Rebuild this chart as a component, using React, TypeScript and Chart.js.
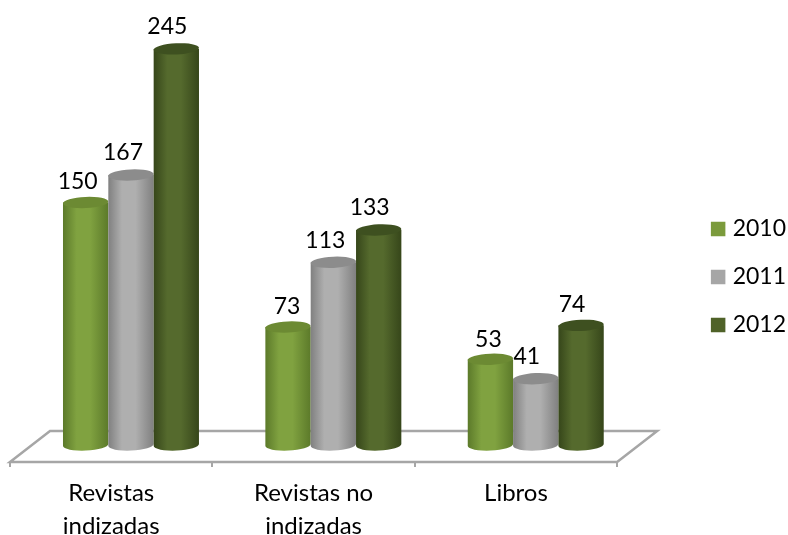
import React, { useEffect, useRef } from "react";
import { Chart, registerables } from "chart.js";

Chart.register(...registerables);

const categories = [["Revistas", "indizadas"], ["Revistas no", "indizadas"], ["Libros"]];
const series2010 = [150, 73, 53];
const series2011 = [167, 113, 41];
const series2012 = [245, 133, 74];
const seriesNames = ["2010", "2011", "2012"];

const legendColors = ["#7b9b3c", "#a6a6a6", "#4f6228"];
const edgeColors = ["#5c7a2a", "#808080", "#36461a"];
const midColors = ["#80a240", "#afafaf", "#556a2d"];
const capColors = ["#6c8a33", "#8c8c8c", "#3e5020"];
const labelShift = [[-8, -1, -2], [-8, -8, -9], [-9, -9, -9]];
const labelRise = [[21, 20, 20], [22, 22, 22], [22, 22, 21]];

const DEPTH_X = 19.8;
const DEPTH_Y = -17;
const FLOOR_X = 40;
const FLOOR_Y = -31;
const RY = 5.6;
const TILT = -0.045;
const FONT = "Lato";
const NUM_SIZE = 23;
const CAT_SIZE = 24;

const cylinderPlugin = {
  id: "cylinders",
  beforeDatasetsDraw(chart: any) {
    const { ctx, chartArea: a } = chart;
    ctx.save();
    ctx.beginPath();
    ctx.moveTo(a.left, a.bottom);
    ctx.lineTo(a.right, a.bottom);
    ctx.lineTo(a.right + FLOOR_X, a.bottom + FLOOR_Y);
    ctx.lineTo(a.left + FLOOR_X, a.bottom + FLOOR_Y);
    ctx.closePath();
    ctx.fillStyle = "#ffffff";
    ctx.fill();
    ctx.strokeStyle = "#a6a6a6";
    ctx.lineWidth = 2.5;
    ctx.stroke();
    ctx.restore();
  },
  beforeDatasetDraw() {
    return false;
  },
  afterDatasetsDraw(chart: any) {
    const { ctx } = chart;
    ctx.save();
    ctx.translate(DEPTH_X, DEPTH_Y);
    chart.data.datasets.forEach((_: any, d: number) => {
      chart.getDatasetMeta(d).data.forEach((bar: any) => {
        const rx = bar.width / 2;
        const left = bar.x - rx;
        const right = bar.x + rx;
        const g = ctx.createLinearGradient(left, 0, right, 0);
        g.addColorStop(0, edgeColors[d]);
        g.addColorStop(0.3, midColors[d]);
        g.addColorStop(0.6, midColors[d]);
        g.addColorStop(1, edgeColors[d]);
        ctx.beginPath();
        ctx.moveTo(left, bar.y);
        ctx.lineTo(left, bar.base);
        ctx.ellipse(bar.x, bar.base, rx, RY, TILT, Math.PI, 0, true);
        ctx.lineTo(right, bar.y);
        ctx.closePath();
        ctx.fillStyle = g;
        ctx.fill();
        ctx.beginPath();
        ctx.ellipse(bar.x, bar.y, rx, RY, TILT, 0, Math.PI * 2);
        ctx.fillStyle = capColors[d];
        ctx.fill();
      });
    });
    ctx.fillStyle = "#000000";
    ctx.font = `${NUM_SIZE}px ${FONT}`;
    ctx.textAlign = "center";
    ctx.textBaseline = "middle";
    chart.data.datasets.forEach((ds: any, d: number) => {
      chart.getDatasetMeta(d).data.forEach((bar: any, i: number) => {
        ctx.fillText(String(ds.data[i]), bar.x + labelShift[d][i], bar.y - labelRise[d][i]);
      });
    });
    ctx.restore();
  },
};

export default function App() {
  const ref = useRef<HTMLCanvasElement>(null);
  useEffect(() => {
    document.body.style.margin = "0";
    const chart = new Chart(ref.current as any, {
      type: "bar",
      plugins: [cylinderPlugin],
      data: {
        labels: categories as any,
        datasets: [series2010, series2011, series2012].map((data, i) => ({
          label: seriesNames[i],
          data,
          backgroundColor: legendColors[i],
          pointStyle: "rect",
          barPercentage: 1,
          categoryPercentage: 0.672,
        })),
      },
      options: {
        responsive: false,
        animation: false,
        layout: { padding: { left: 10, top: 19, right: -8, bottom: 0 } },
        scales: {
          x: {
            afterFit: (s: any) => {
              s.height = 73;
            },
            border: { display: false },
            grid: { drawOnChartArea: false, color: "#a6a6a6", lineWidth: 2, tickLength: 5 },
            ticks: {
              color: "#000000",
              maxRotation: 0,
              autoSkip: false,
              padding: 10,
              font: { family: FONT, size: CAT_SIZE, lineHeight: "33px" },
            },
          },
          y: {
            position: "right",
            min: 0,
            max: 274,
            afterFit: (s: any) => {
              s.width = 73;
            },
            border: { display: false },
            grid: { display: false },
            ticks: { display: false },
          },
        },
        plugins: {
          tooltip: { enabled: false },
          legend: {
            position: "right",
            labels: {
              color: "#000000",
              usePointStyle: true,
              boxWidth: 6,
              boxHeight: 14.5,
              padding: 25,
              font: { family: FONT, size: NUM_SIZE },
            },
          },
        },
      } as any,
    });
    return () => chart.destroy();
  }, []);
  return (
    <div style={{ position: "absolute", left: 0, top: 0, width: 788, height: 535 }}>
      <canvas ref={ref} width={788} height={535} style={{ display: "block" }} />
    </div>
  );
}
